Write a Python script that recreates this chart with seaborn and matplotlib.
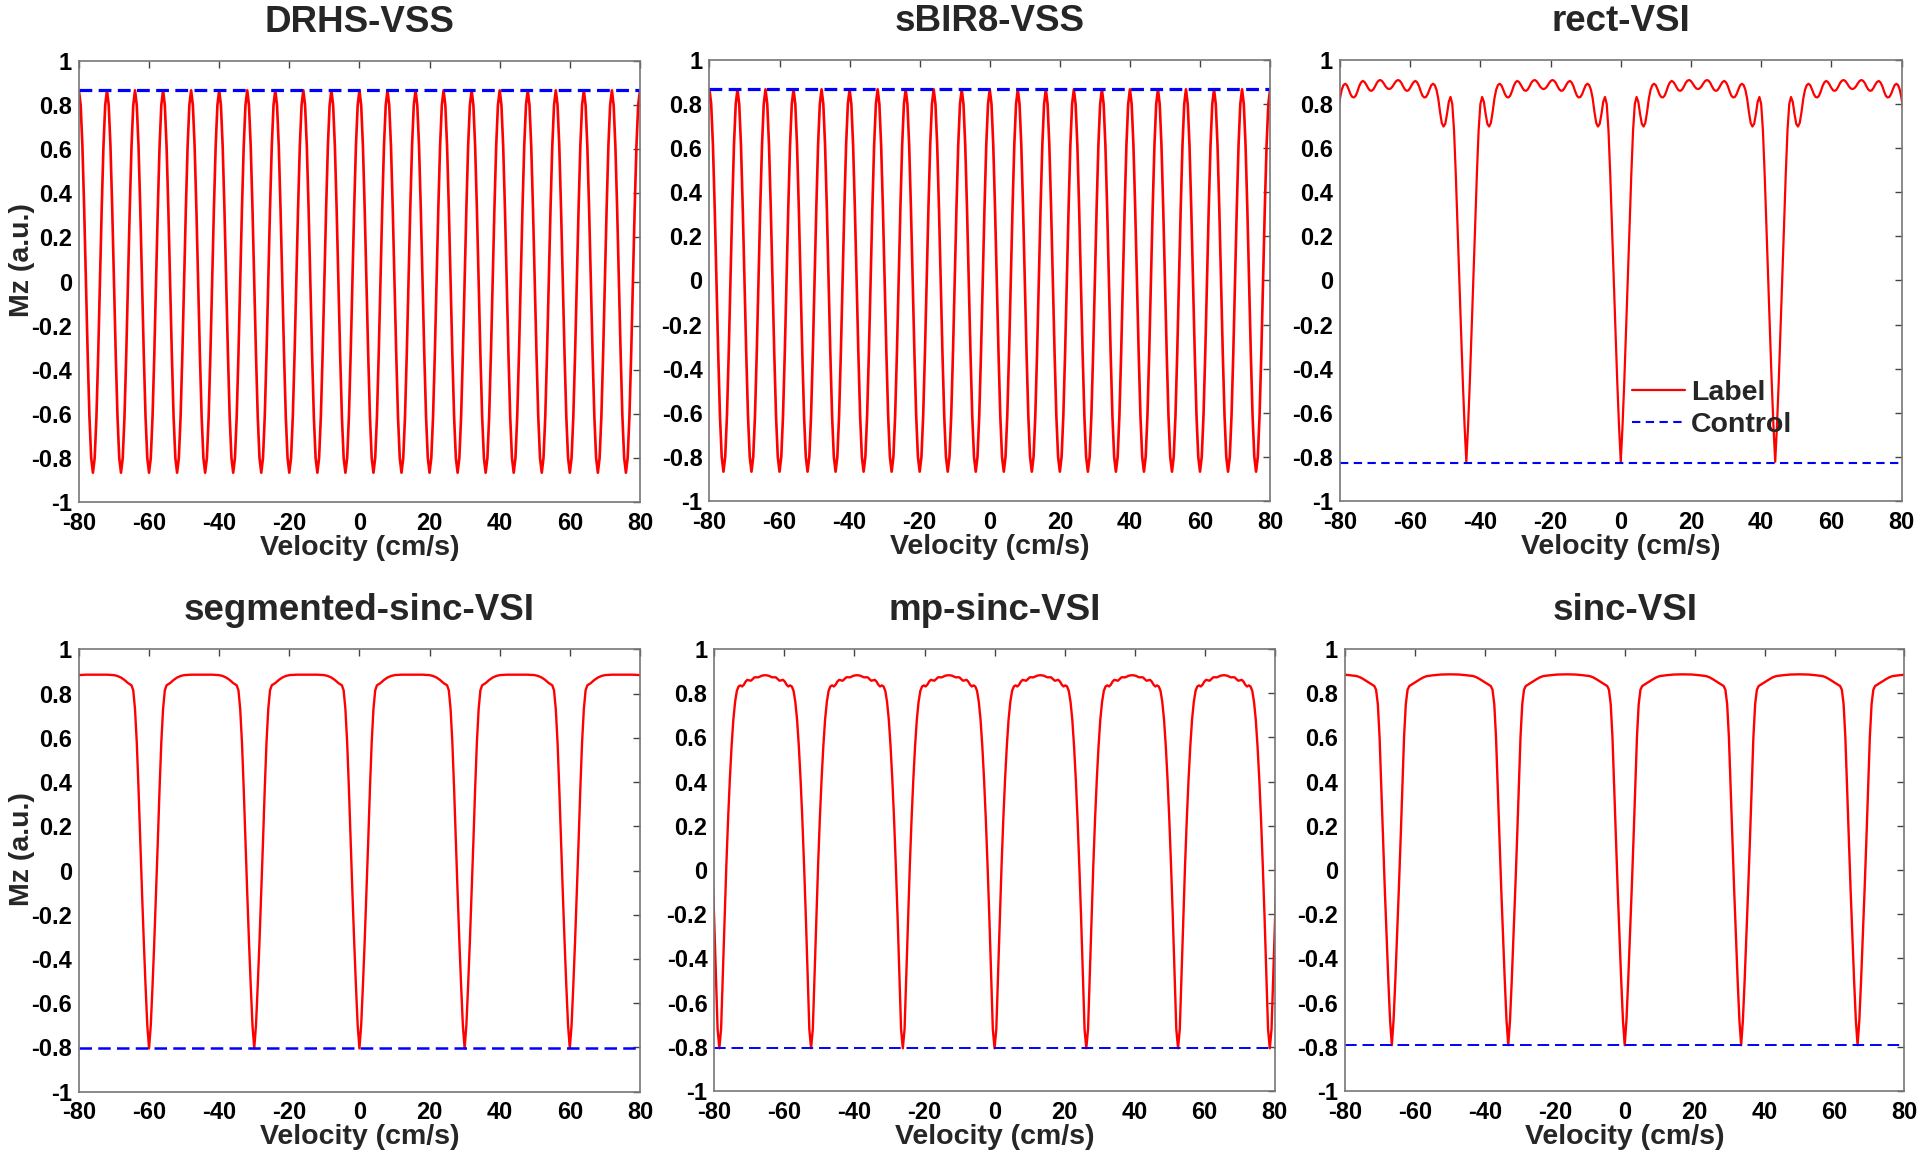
import numpy as np
import pandas as pd
import seaborn as sns
import matplotlib.pyplot as plt

# values (velocity in cm/s, Mz in a.u.)
# each curve: centres of its repeating feature + one half profile (offset from centre, Mz)
x_ticks = [-80, -60, -40, -20, 0, 20, 40, 60, 80]
y_ticks = [-1, -0.8, -0.6, -0.4, -0.2, 0, 0.2, 0.4, 0.6, 0.8, 1]

drhs_peaks = [-80, -72, -64, -56, -48, -40, -32, -24, -16, -8, 0,
              8, 16, 24, 32, 40, 48, 56, 64, 72, 80]
drhs_off = [0, 0.5, 1.0, 1.5, 2.0, 2.5, 3.0, 3.5, 4.0]
drhs_mz = [0.867, 0.80, 0.613, 0.33, 0.0, -0.33, -0.613, -0.80, -0.867]
drhs_control = 0.867

sbir8_peaks = [-80, -72, -64, -56, -48, -40, -32, -24, -16, -8, 0,
               8, 16, 24, 32, 40, 48, 56, 64, 72, 80]
sbir8_off = [0, 0.5, 1.0, 1.5, 2.0, 2.5, 3.0, 3.5, 4.0]
sbir8_mz = [0.867, 0.80, 0.613, 0.33, 0.0, -0.33, -0.613, -0.80, -0.867]
sbir8_control = 0.867

rect_dips = [-88, -44, 0, 44, 88]
rect_off = [0, 0.5, 1.0, 1.5, 2.0, 2.5, 3.0, 3.5, 4.0, 4.5, 5.0, 5.5, 6.0, 6.5,
            7.0, 7.5, 8.0, 8.5, 9.0, 9.5, 10.0, 10.5, 11.0, 11.5, 12.0, 12.5,
            13.0, 13.5, 14.0, 14.5, 15.0, 15.5, 16.0, 16.5, 17.0, 17.5, 18.0,
            18.5, 19.0, 19.5, 20.0, 20.5, 21.0, 21.5, 22.0]
rect_mz = [-0.822, -0.66, -0.46, -0.23, 0.0, 0.24, 0.48, 0.68, 0.80, 0.832,
           0.81, 0.755, 0.71, 0.698, 0.715, 0.765, 0.825, 0.865, 0.886, 0.892,
           0.885, 0.866, 0.845, 0.832, 0.83, 0.838, 0.858, 0.882, 0.898, 0.905,
           0.90, 0.888, 0.873, 0.862, 0.86, 0.866, 0.88, 0.896, 0.906, 0.909,
           0.904, 0.893, 0.88, 0.871, 0.868]
rect_control = -0.83

seg_dips = [-90, -60, -30, 0, 30, 60, 90]
seg_off = [0, 0.5, 1.0, 1.5, 2.0, 2.5, 3.0, 3.5, 4.0, 4.5, 5.0, 6.0, 7.0, 8.0,
           9.0, 10.0, 12.0, 15.0]
seg_mz = [-0.805, -0.70, -0.52, -0.32, -0.10, 0.13, 0.37, 0.58, 0.73, 0.815,
          0.838, 0.848, 0.862, 0.873, 0.880, 0.884, 0.886, 0.886]
seg_control = -0.805

mp_dips = [-78.6, -52.4, -26.2, 0, 26.2, 52.4, 78.6]
mp_off = [0, 0.5, 1.0, 1.5, 2.0, 2.5, 3.0, 3.5, 4.0, 4.5, 5.0, 5.5, 6.0, 6.5,
          7.0, 7.5, 8.0, 8.5, 9.0, 9.5, 10.0, 10.5, 11.0, 11.5, 12.0, 12.5, 13.1]
mp_mz = [-0.807, -0.72, -0.47, -0.21, 0.02, 0.23, 0.41, 0.56, 0.68, 0.76, 0.81,
         0.83, 0.835, 0.83, 0.838, 0.852, 0.86, 0.858, 0.856, 0.863, 0.871,
         0.872, 0.871, 0.874, 0.878, 0.88, 0.881]
mp_control = -0.807

sinc_dips = [-99.9, -66.6, -33.3, 0, 33.3, 66.6, 99.9]
sinc_off = [0, 0.5, 1.0, 1.5, 2.0, 2.5, 3.0, 3.5, 4.0, 4.5, 5.0, 6.0, 7.0, 8.0,
            9.0, 10.0, 12.0, 14.0, 16.65]
sinc_mz = [-0.793, -0.68, -0.50, -0.30, -0.09, 0.13, 0.37, 0.60, 0.75, 0.815,
           0.832, 0.842, 0.852, 0.862, 0.871, 0.877, 0.881, 0.884, 0.885]
sinc_control = -0.793


def make_curve(centres, half_off, half_mz):
    off = np.array(half_off, dtype=float)
    mz = np.array(half_mz, dtype=float)
    full_off = np.concatenate([-off[:0:-1], off])
    full_mz = np.concatenate([mz[:0:-1], mz])
    v = np.concatenate([c + full_off for c in centres])
    m = np.tile(full_mz, len(centres))
    v, idx = np.unique(np.round(v, 3), return_index=True)
    return pd.DataFrame({"velocity": v, "mz": m[idx]})


sns.set_style("white")
plt.rcParams["font.family"] = ["Liberation Sans", "DejaVu Sans"]
plt.rcParams["font.weight"] = "bold"
plt.rcParams["axes.titleweight"] = "bold"
plt.rcParams["axes.labelweight"] = "bold"
plt.rcParams["axes.unicode_minus"] = False

fig = plt.figure(figsize=(19.2, 11.53), dpi=100)

panels = [
    ("DRHS-VSS", drhs_peaks, drhs_off, drhs_mz, drhs_control,
     [0.0411, 0.5646, 0.2922, 0.3825], 1.9, 2.3, (0, (4, 2))),
    ("sBIR8-VSS", sbir8_peaks, sbir8_off, sbir8_mz, sbir8_control,
     [0.3695, 0.5655, 0.2920, 0.3825], 1.9, 2.3, (0, (4, 2))),
    ("rect-VSI", rect_dips, rect_off, rect_mz, rect_control,
     [0.6979, 0.5655, 0.2925, 0.3825], 1.6, 1.5, (0, (4, 2.6))),
    ("segmented-sinc-VSI", seg_dips, seg_off, seg_mz, seg_control,
     [0.0411, 0.0533, 0.2922, 0.3834], 1.7, 1.8, (0, (5, 2.5))),
    ("mp-sinc-VSI", mp_dips, mp_off, mp_mz, mp_control,
     [0.3721, 0.0538, 0.2918, 0.3834], 1.7, 1.4, (0, (6, 3))),
    ("sinc-VSI", sinc_dips, sinc_off, sinc_mz, sinc_control,
     [0.7005, 0.0538, 0.2914, 0.3834], 1.7, 1.4, (0, (6, 3))),
]

for i, (title, centres, off, mz, control, rect, lw, clw, dash) in enumerate(panels):
    ax = fig.add_axes(rect)
    df = make_curve(centres, off, mz)
    ctrl = pd.DataFrame({"velocity": [-80, 80], "mz": [control, control]})
    is_rect = title == "rect-VSI"
    sns.lineplot(data=df, x="velocity", y="mz", ax=ax, color="red", linewidth=lw,
                 estimator=None, label="Label" if is_rect else None)
    sns.lineplot(data=ctrl, x="velocity", y="mz", ax=ax, color="blue",
                 linewidth=clw, linestyle=dash, estimator=None,
                 label="Control" if is_rect else None)
    ax.set_xlim(-80, 80)
    ax.set_ylim(-1, 1)
    ax.set_xticks(x_ticks)
    ax.set_xticklabels(["%g" % t for t in x_ticks])
    ax.set_yticks(y_ticks)
    ax.set_yticklabels(["%g" % t for t in y_ticks])
    ax.tick_params(direction="in", top=True, right=True, length=5, width=1,
                   color="#444444", labelcolor="black", labelsize=17)
    ax.tick_params(axis="x", pad=7)
    ax.tick_params(axis="y", pad=5)
    for s in ax.spines.values():
        s.set_color("#777777")
        s.set_linewidth(1.2)
    ax.set_title(title, fontsize=26.5, fontweight="bold", pad=21)
    ax.set_xlabel("Velocity (cm/s)", fontsize=20.5, labelpad=0)
    if i % 3 == 0:
        ax.set_ylabel("Mz (a.u.)", fontsize=20.5)
        ax.yaxis.set_label_coords(-0.079, 0.548)
    else:
        ax.set_ylabel("")
    if is_rect:
        ax.legend(loc="center left", bbox_to_anchor=(0.52, 0.208), frameon=False,
                  fontsize=20.5, handlelength=1.87, handletextpad=0.2,
                  labelspacing=0.2, borderpad=0, borderaxespad=0)
    elif ax.get_legend() is not None:
        ax.get_legend().remove()

fig.savefig("out.png", dpi=100)
